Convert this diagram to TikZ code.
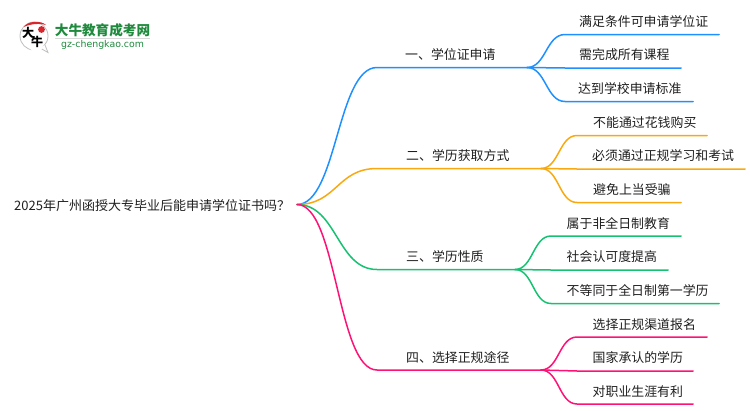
\documentclass[tikz,border=0pt]{standalone}
\usepackage{fontspec}
\setmainfont{Noto Sans CJK SC}
\newfontfamily\logolatin{DejaVu Sans}
\definecolor{lineblue}{HTML}{1E90FF}
\definecolor{lineorange}{HTML}{F9A90F}
\definecolor{linegreen}{HTML}{16C172}
\definecolor{linepink}{HTML}{FF1276}
\definecolor{logogreen}{HTML}{1F8A3D}
\definecolor{logored}{HTML}{D8262C}
\tikzset{
	rootlabel/.style={anchor=west, inner sep=0pt, text=black!88, font=\fontsize{13}{16}\selectfont},
	branchlabel/.style={anchor=west, inner sep=0pt, text=black!88, font=\fontsize{12.9}{15}\selectfont},
	leaflabel/.style={anchor=west, inner sep=0pt, text=black!88, font=\fontsize{12.9}{16}\selectfont},
	mapline/.style={line width=1.5pt, line cap=round},
}
\begin{document}
\begin{tikzpicture}[x=1pt, y=-1pt]
			\useasboundingbox (0, 0) rectangle (750, 410);
			
			%%%%% LOGO %%%%%
			\draw[fill=white, draw=black!25, line width=0.8pt] (34, 36) circle (14);
			\draw[fill=white, draw=black!25, line width=0.8pt] (40, 48) -- (48, 52.5) -- (45, 45);
			\fill[white] (36, 45) circle (7);
			\fill[logored] (24, 27) .. controls (27, 21) and (41, 20) .. (46, 25) .. controls (40, 23) and (29, 24) .. (24, 27) -- cycle;
			\fill[logored] (41.5, 29.5) circle (3.4);
			\node (logoa) at (28, 33) [inner sep=0pt, font=\fontsize{12}{12}\selectfont\bfseries] {大};
			\node (logob) at (37, 42) [inner sep=0pt, font=\fontsize{12}{12}\selectfont\bfseries] {牛};
			\node (logotitle) at (102.5, 30) [inner sep=0pt, text=logogreen, font=\fontsize{13.6}{14}\selectfont\bfseries] {大牛教育成考网};
			\draw[black!15, line width=1pt] (55, 38.6) -- (150, 38.6);
			\node (logourl) at (102.5, 45) [inner sep=0pt, text=logogreen, font=\fontsize{9.4}{10}\logolatin] {gz-chengkao.com};
			
			%%%%% TEXT %%%%%
			\node[rootlabel] (root) at (14, 206) {2025年广州函授大专毕业后能申请学位证书吗？};
			
			\node[branchlabel] (one) at (405, 55) {一、学位证申请};
			\node[branchlabel] (two) at (406, 156) {二、学历获取方式};
			\node[branchlabel] (three) at (406, 257) {三、学历性质};
			\node[branchlabel] (four) at (406, 358) {四、选择正规途径};
			
			\node[leaflabel] (oneA) at (579, 22) {满足条件可申请学位证};
			\node[leaflabel] (oneB) at (579, 55) {需完成所有课程};
			\node[leaflabel] (oneC) at (578, 88.5) {达到学校申请标准};
			
			\node[leaflabel] (twoA) at (593, 123) {不能通过花钱购买};
			\node[leaflabel] (twoB) at (592, 156) {必须通过正规学习和考试};
			\node[leaflabel] (twoC) at (593, 190) {避免上当受骗};
			
			\node[leaflabel] (threeA) at (566.5, 223.5) {属于非全日制教育};
			\node[leaflabel] (threeB) at (566.5, 257) {社会认可度提高};
			\node[leaflabel] (threeC) at (566.5, 291) {不等同于全日制第一学历};
			
			\node[leaflabel] (fourA) at (592.5, 324.5) {选择正规渠道报名};
			\node[leaflabel] (fourB) at (592.5, 358) {国家承认的学历};
			\node[leaflabel] (fourC) at (592.5, 391.5) {对职业生涯有利};
			
			%%%%% LINES %%%%%
			\coordinate (start) at (297, 204.5);
			
			\coordinate (oneL) at (377, 67.5);
			\coordinate (oneR) at (527, 67.5);
			\coordinate (twoL) at (377, 168.5);
			\coordinate (twoR) at (541, 168.5);
			\coordinate (threeL) at (377, 269.5);
			\coordinate (threeR) at (515, 269.5);
			\coordinate (fourL) at (377, 370);
			\coordinate (fourR) at (541, 370);
			
			\draw[mapline, lineblue] (start) .. controls (337, 204.5) and (337, 67.5) .. (oneL) -- (oneR);
			\draw[mapline, lineorange] (start) .. controls (337, 204.5) and (337, 168.5) .. (twoL) -- (twoR);
			\draw[mapline, linegreen] (start) .. controls (337, 204.5) and (337, 269.5) .. (threeL) -- (threeR);
			\draw[mapline, linepink] (start) .. controls (337, 204.5) and (337, 370) .. (fourL) -- (fourR);
			
			\draw[mapline, lineblue] (oneR) .. controls (546, 67.5) and (546, 34.5) .. (565, 34.5) -- (719, 34.5);
			\draw[mapline, lineblue] (oneR) .. controls (546, 67.5) and (546, 68) .. (565, 68) -- (681, 68);
			\draw[mapline, lineblue] (oneR) .. controls (546, 67.5) and (546, 101.5) .. (565, 101.5) -- (693, 101.5);
			
			\draw[mapline, lineorange] (twoR) .. controls (559, 168.5) and (559, 135.5) .. (577, 135.5) -- (707, 135.5);
			\draw[mapline, lineorange] (twoR) .. controls (559, 168.5) and (559, 169) .. (577, 169) -- (745, 169);
			\draw[mapline, lineorange] (twoR) .. controls (559, 168.5) and (559, 202.5) .. (577, 202.5) -- (681, 202.5);
			
			\draw[mapline, linegreen] (threeR) .. controls (533, 269.5) and (533, 236) .. (551, 236) -- (681, 236);
			\draw[mapline, linegreen] (threeR) .. controls (533, 269.5) and (533, 270) .. (551, 270) -- (668, 270);
			\draw[mapline, linegreen] (threeR) .. controls (533, 269.5) and (533, 303.5) .. (551, 303.5) -- (719, 303.5);
			
			\draw[mapline, linepink] (fourR) .. controls (559, 370) and (559, 337) .. (577, 337) -- (707, 337);
			\draw[mapline, linepink] (fourR) .. controls (559, 370) and (559, 371) .. (577, 371) -- (693, 371);
			\draw[mapline, linepink] (fourR) .. controls (559, 370) and (559, 404) .. (577, 404) -- (693, 404);
\end{tikzpicture}
\end{document}
